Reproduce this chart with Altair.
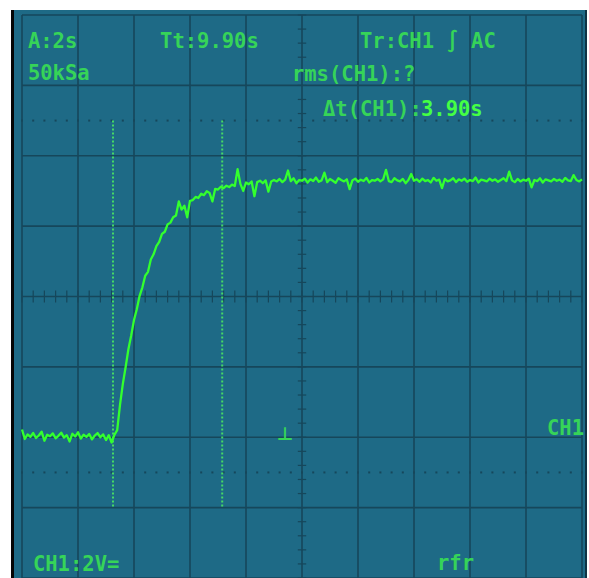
import altair as alt
import pandas as pd

# Oscilloscope screen: 10 x 8 divisions, 2 s/div and 2 V/div
T_MAX = 20.0
V_MAX = 8.0
DT = 0.1  # sample spacing of the stored trace, seconds

SCREEN = "#1e6a86"
GRID = "#16475b"
TEXT = "#36d458"
TRACE = "#33ff2e"
CURSOR = "#45d866"

# CH1 step response, volts, one sample every 0.1 s from 0 to 20 s
ch1_volts = [
    -3.78, -4.05, -3.92, -3.99, -3.88, -4.02, -3.95, -3.84, -4.10, -3.93,
    -3.97, -3.89, -4.03, -3.96, -3.87, -4.01, -3.94, -4.12, -3.90, -3.98,
    -3.86, -4.04, -3.93, -3.99, -3.91, -4.06, -3.95, -3.88, -4.00, -3.92,
    -4.08, -3.94, -4.15, -3.93,
    -3.80, -3.08, -2.49, -2.01, -1.50, -1.11, -0.67, -0.36, 0.02, 0.26,
    0.59, 0.70, 1.05, 1.20, 1.43, 1.55, 1.78, 1.84, 2.05, 2.10,
    2.25, 2.30, 2.70, 2.47, 2.58, 2.25, 2.72, 2.74, 2.83, 2.80,
    2.92, 2.88, 2.99, 2.94, 2.70, 3.06, 3.04, 3.12, 3.08, 3.15,
    3.11, 3.18, 3.14, 3.62, 3.20, 3.00, 3.24, 3.19, 3.27, 2.85,
    3.25, 3.29, 3.22, 3.30, 2.98, 3.27, 3.31,
    3.27, 3.34, 3.25, 3.32, 3.58, 3.28, 3.36, 3.22, 3.31, 3.29,
    3.35, 3.24, 3.33, 3.28, 3.38, 3.26, 3.30, 3.52, 3.25, 3.34,
    3.29, 3.23, 3.36, 3.31, 3.27, 3.33, 3.05, 3.30, 3.35, 3.26,
    3.32, 3.28, 3.37, 3.24, 3.31, 3.29, 3.34, 3.27, 3.33, 3.60,
    3.28, 3.25, 3.36, 3.30, 3.27, 3.34, 3.22, 3.31, 3.48, 3.29,
    3.33, 3.26, 3.35, 3.28, 3.31, 3.24, 3.37, 3.29, 3.32, 3.08,
    3.34, 3.27, 3.30, 3.36, 3.25, 3.33, 3.29, 3.35, 3.26, 3.31,
    3.28, 3.38, 3.24, 3.32, 3.30, 3.27, 3.35, 3.29, 3.33, 3.26,
    3.31, 3.36, 3.28, 3.55, 3.30, 3.25, 3.34, 3.27, 3.32, 3.29,
    3.35, 3.10, 3.31, 3.28, 3.36, 3.24, 3.33, 3.30, 3.27, 3.34,
    3.29, 3.32, 3.26, 3.37, 3.30, 3.28, 3.45, 3.31, 3.27, 3.33,
]
ch1_time = [round(i * DT, 1) for i in range(len(ch1_volts))]

# Time cursors (delta = 3.90 s) and their vertical extent in volts
cursor_times = [3.25, 7.15]
cursor_top = 5.0
cursor_bottom = -6.0

# Major graticule lines and the 1/5-division marks
major_t = [0, 2, 4, 6, 8, 10, 12, 14, 16, 18, 20]
major_v = [-8, -6, -4, -2, 0, 2, 4, 6, 8]
minor_t = [round(0.4 * k, 1) for k in range(51)]
minor_v = [round(-8 + 0.4 * k, 1) for k in range(41)]
rise_marks_v = [5.0, -5.0]
tick_half_v = 0.17   # half length of marks on the horizontal centre line
tick_half_t = 0.15   # half length of marks on the vertical centre line

# Readout texts: label, time position, volt position, colour
labels = ["A:2s", "Tt:9.90s", "Tr:CH1 \u222b AC", "50kSa", "rms(CH1):?",
          "\u0394t(CH1):", "3.90s", "CH1:2V=", "rfr", "CH1"]
label_t = [0.21, 4.93, 12.07, 0.21, 9.64, 10.75, 14.25, 0.39, 14.82, 18.75]
label_v = [7.07, 7.07, 7.07, 6.16, 6.13, 5.13, 5.13, -7.80, -7.77, -3.93]
label_col = [TEXT, TEXT, TEXT, TEXT, TEXT, TEXT, "#44ff44", TEXT, TEXT, TEXT]

trig_t = [9.39]
trig_v = [-4.08]

W, H = 560, 563
xs = alt.Scale(domain=[0, T_MAX], nice=False, zero=False)
ys = alt.Scale(domain=[-V_MAX, V_MAX], nice=False, zero=False)


def X(field):
    return alt.X(field, type="quantitative", scale=xs, axis=None)


def Y(field):
    return alt.Y(field, type="quantitative", scale=ys, axis=None)


one = pd.DataFrame({"k": [0]})

screen = alt.Chart(one).mark_rect(color=SCREEN).encode(
    x=alt.value(-8), x2=alt.value(565), y=alt.value(-5), y2=alt.value(H)
)
bezel = alt.Chart(one).mark_rect(color="#050505").encode(
    x=alt.value(-11), x2=alt.value(-8), y=alt.value(-5), y2=alt.value(H)
)
right_edge = alt.Chart(one).mark_rect(color="#0f3444").encode(
    x=alt.value(563), x2=alt.value(565), y=alt.value(-5), y2=alt.value(H)
)

vgrid = alt.Chart(pd.DataFrame({"t": major_t})).mark_rule(
    color=GRID, strokeWidth=1.6
).encode(x=X("t"), y=alt.value(0), y2=alt.value(H))

hgrid = alt.Chart(pd.DataFrame({"v": major_v})).mark_rule(
    color=GRID, strokeWidth=1.6
).encode(y=Y("v"), x=alt.value(0), x2=alt.value(W))

htick = alt.Chart(pd.DataFrame({
    "t": minor_t,
    "a": [tick_half_v] * len(minor_t),
    "b": [-tick_half_v] * len(minor_t),
})).mark_rule(color=GRID, strokeWidth=1.2).encode(
    x=X("t"), y=Y("a"), y2="b:Q"
)

vtick = alt.Chart(pd.DataFrame({
    "v": minor_v,
    "a": [T_MAX / 2 - tick_half_t] * len(minor_v),
    "b": [T_MAX / 2 + tick_half_t] * len(minor_v),
})).mark_rule(color=GRID, strokeWidth=1.2).encode(
    y=Y("v"), x=X("a"), x2="b:Q"
)

dots = alt.Chart(
    pd.DataFrame([{"t": t, "v": v} for v in rise_marks_v for t in minor_t])
).mark_square(color=GRID, size=4, opacity=1).encode(x=X("t"), y=Y("v"))

cursors = alt.Chart(pd.DataFrame({
    "t": cursor_times,
    "top": [cursor_top] * len(cursor_times),
    "bottom": [cursor_bottom] * len(cursor_times),
})).mark_rule(color=CURSOR, strokeWidth=2, strokeDash=[2, 2]).encode(
    x=X("t"), y=Y("top"), y2="bottom:Q"
)

trace = alt.Chart(pd.DataFrame({"t": ch1_time, "v": ch1_volts})).mark_line(
    color=TRACE, strokeWidth=2.3, strokeJoin="round"
).encode(x=X("t"), y=Y("v"))

texts = alt.Chart(pd.DataFrame({
    "label": labels, "t": label_t, "v": label_v, "col": label_col,
})).mark_text(
    font="DejaVu Sans Mono", fontSize=20.5, fontWeight="bold",
    align="left", baseline="alphabetic"
).encode(
    x=X("t"), y=Y("v"),
    text="label:N",
    color=alt.Color("col:N", scale=None),
)

trigger = alt.Chart(pd.DataFrame({"t": trig_t, "v": trig_v})).mark_text(
    text="\u22a5", font="DejaVu Sans", fontSize=18, fontWeight="bold",
    color=TEXT, align="center", baseline="alphabetic"
).encode(x=X("t"), y=Y("v"))

chart = alt.layer(
    screen, bezel, right_edge, vgrid, hgrid, htick, vtick, dots,
    cursors, trace, texts, trigger,
).properties(
    width=W, height=H,
    padding={"left": 22, "top": 15, "right": 7, "bottom": 0},
    autosize=alt.AutoSizeParams(type="none"),
    background="white",
).configure_view(stroke=None)

chart.save("out.html", embed_options={"renderer": "svg", "actions": False})
